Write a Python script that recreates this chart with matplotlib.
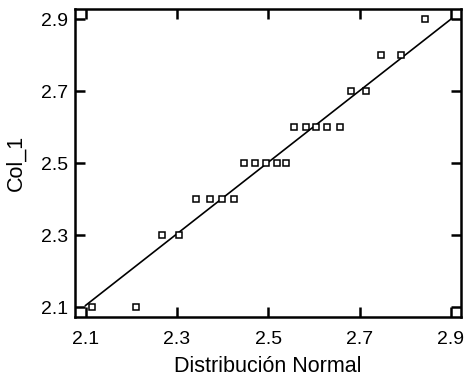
import matplotlib
matplotlib.use("Agg")
import matplotlib.pyplot as plt

plt.rcParams['font.family'] = ['Liberation Sans', 'DejaVu Sans']

# normal quantiles vs observed values
normal_q = [2.114, 2.21, 2.267, 2.305, 2.343, 2.372, 2.398, 2.425,
            2.448, 2.472, 2.496, 2.519, 2.540,
            2.557, 2.582, 2.605, 2.629, 2.658,
            2.682, 2.714, 2.747, 2.790, 2.843]
col_1 = [2.1, 2.1, 2.3, 2.3, 2.4, 2.4, 2.4, 2.4,
         2.5, 2.5, 2.5, 2.5, 2.5,
         2.6, 2.6, 2.6, 2.6, 2.6,
         2.7, 2.7, 2.8, 2.8, 2.9]
fit_x = [2.1, 2.9]
fit_y = [2.105, 2.9]
ticks = [2.1, 2.3, 2.5, 2.7, 2.9]

fig = plt.figure(figsize=(4.67, 3.79), dpi=100)
ax = fig.add_axes([0.1606, 0.1636, 0.8264, 0.8114])

ax.plot(fit_x, fit_y, color='black', lw=1.2)
ax.plot(normal_q, col_1, ls='none', marker='s', ms=4.0, mfc='white',
        mec='black', mew=1.1)

ax.set_xlim(2.077, 2.922)
ax.set_ylim(2.073, 2.927)
ax.set_xticks(ticks)
ax.set_yticks(ticks)
ax.set_xticklabels([f"{t:.1f}" for t in ticks])
ax.set_yticklabels([f"{t:.1f}" for t in ticks])
ax.tick_params(direction='in', top=True, right=True, length=7, width=1.8,
               labelsize=14)
ax.tick_params(axis='x', pad=10)
ax.tick_params(axis='y', pad=5)
for s in ax.spines.values():
    s.set_linewidth(1.8)

ax.set_xlabel('Distribución Normal', fontsize=15.5, labelpad=6)
ax.set_ylabel('Col_1', fontsize=15.5, labelpad=10)

fig.savefig('out.png', dpi=100)
